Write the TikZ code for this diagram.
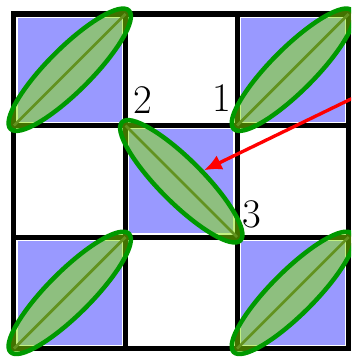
\documentclass[tikz,border=0pt]{standalone}
\usepackage{tikz}
\usetikzlibrary{positioning, arrows.meta, shapes.geometric}

\begin{document}
\begin{tikzpicture}[
    gridline/.style={line width=2.6pt, black, line cap=rect},
    bluecell/.style={fill={rgb,255:red,153;green,153;blue,255}},
    leaf/.style={ellipse, draw={rgb,255:red,0;green,153;blue,0}, line width=2.3pt, fill={rgb,255:red,133;green,229;blue,0}, fill opacity=0.5, minimum width=3cm, minimum height=0.78cm, inner sep=0pt},
    diag/.style={line width=1.4pt, black!75},
    num/.style={font=\huge, inner sep=0pt},
    arr/.style={-{Latex[length=9pt, width=8pt]}, line width=1.7pt, red}
]
\path[use as bounding box, clip] (-0.25,-0.15) rectangle (6.045,6.25);

% shaded cells
\fill[bluecell] (0.07,4.07) rectangle (1.93,5.93);
\fill[bluecell] (4.07,4.07) rectangle (5.93,5.93);
\fill[bluecell] (2.07,2.07) rectangle (3.93,3.93);
\fill[bluecell] (0.07,0.07) rectangle (1.93,1.93);
\fill[bluecell] (4.07,0.07) rectangle (5.93,1.93);

\draw[gridline] (0,0) grid[step=2cm] (6,6);

% diagonals under the leaves
\draw[diag] (0,4) -- (2,6);
\draw[diag] (4,4) -- (6,6);
\draw[diag] (2,4) -- (4,2);
\draw[diag] (0,0) -- (2,2);
\draw[diag] (4,0) -- (6,2);

\node[leaf, rotate=45] (e11) at (1,5) {};
\node[leaf, rotate=45] (e13) at (5,5) {};
\node[leaf, rotate=-45] (e22) at (3,3) {};
\node[leaf, rotate=45] (e31) at (1,1) {};
\node[leaf, rotate=45] (e33) at (5,1) {};

\node[num] (lab2) at (2.31,4.46) {2};
\node[num] (lab1) at (3.73,4.49) {1};
\node[num] (lab3) at (4.27,2.41) {3};

\coordinate (src) at (6.3,4.6);
\draw[arr] (src) -- (e22);

\end{tikzpicture}
\end{document}
